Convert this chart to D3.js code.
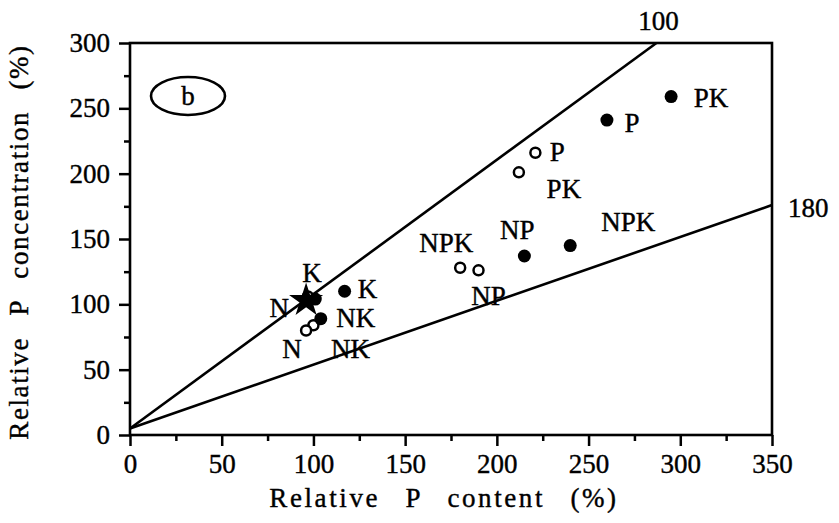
<!DOCTYPE html>
<html>
<head>
<meta charset="utf-8">
<script src="https://cdn.jsdelivr.net/npm/d3@7"></script>
<style>
  html, body { margin: 0; padding: 0; background: #fff; }
  svg { display: block; }
  text { font-family: "Liberation Serif", "DejaVu Serif", serif; fill: #000; stroke: #000; stroke-width: 0.4px; }
</style>
</head>
<body>
<svg id="chart" width="839" height="523"></svg>
<script>
// Relative P content vs relative P concentration, panel b
const xTicks = [0, 50, 100, 150, 200, 250, 300, 350];
const yTicks = [0, 50, 100, 150, 200, 250, 300];

// Filled symbols
const filledLabels = ["PK", "P", "NPK", "NP", "K", "NK", "N"];
const filledX = [295, 260, 240, 215, 117, 104, 101];
const filledY = [259, 241, 145, 137, 110, 89, 104];

// Open symbols
const openLabels = ["P", "PK", "NP", "NPK", "K", "NK", "N"];
const openX = [221, 212, 190, 180, 97, 100, 96];
const openY = [216, 201, 126, 128, 106, 84, 80];

// Unfertilised control (star)
const controlX = 96;
const controlY = 103;

// Reference lines (start and end points in data units)
const refLabels = ["100", "180"];
const refX0 = [0, 0];
const refY0 = [5, 5];
const refX1 = [287, 350];
const refY1 = [300, 176];

// label placement, pixel offsets from each symbol
const filledOffsets = {
  PK: [40, 1], P: [25, 2], NPK: [58, -24], NP: [-7, -26],
  K: [23, -3], NK: [35, -1], N: [-36, 8]
};
const openOffsets = {
  P: [22, -1], PK: [45, 16], NP: [10, 25], NPK: [-14, -25],
  K: [4, -24], NK: [37, 23], N: [-14, 18]
};

const svg = d3.select("#chart");
const plotLeft = 130, plotRight = 772, plotTop = 43, plotBottom = 435;

const x = d3.scaleLinear().domain([0, 350]).range([plotLeft, plotRight]);
const y = d3.scaleLinear().domain([0, 300]).range([plotBottom, plotTop]);

const tickFont = 27;
const labelFont = 27;

// frame
svg.append("rect")
  .attr("x", plotLeft).attr("y", plotTop)
  .attr("width", plotRight - plotLeft).attr("height", plotBottom - plotTop)
  .attr("fill", "none").attr("stroke", "#000").attr("stroke-width", 2.6);

// minor ticks
const minor = d3.range(25, 350, 50);
const minorY = d3.range(25, 300, 50);
svg.append("g").attr("transform", `translate(0,${plotBottom})`)
  .call(d3.axisBottom(x).tickValues(minor).tickSize(6).tickFormat(""))
  .call(g => g.select(".domain").remove())
  .selectAll("line").attr("stroke-width", 2.5);
svg.append("g").attr("transform", `translate(${plotLeft},0)`)
  .call(d3.axisLeft(y).tickValues(minorY).tickSize(6).tickFormat(""))
  .call(g => g.select(".domain").remove())
  .selectAll("line").attr("stroke-width", 2.5);

// major ticks with labels
const xAxis = svg.append("g").attr("transform", `translate(0,${plotBottom})`)
  .call(d3.axisBottom(x).tickValues(xTicks).tickSize(11).tickPadding(5));
xAxis.select(".domain").remove();
xAxis.selectAll("line").attr("stroke-width", 2.5);
xAxis.selectAll("text").attr("font-size", tickFont).attr("dy", "0.8em");

const yAxis = svg.append("g").attr("transform", `translate(${plotLeft},0)`)
  .call(d3.axisLeft(y).tickValues(yTicks).tickSize(11).tickPadding(9));
yAxis.select(".domain").remove();
yAxis.selectAll("line").attr("stroke-width", 2.5);
yAxis.selectAll("text").attr("font-size", tickFont);

// axis titles
svg.append("text")
  .attr("x", (plotLeft + plotRight) / 2 - 7).attr("y", 507)
  .attr("text-anchor", "middle")
  .attr("font-size", 27)
  .style("letter-spacing", "2.6px").style("word-spacing", "16px")
  .text("Relative P content (%)");

svg.append("text")
  .attr("transform", `translate(28,${(plotTop + plotBottom) / 2 + 3}) rotate(-90)`)
  .attr("text-anchor", "middle")
  .attr("font-size", 27)
  .style("letter-spacing", "1.6px").style("word-spacing", "13px")
  .text("Relative P concentration (%)");

// reference lines
const refs = refLabels.map((l, i) => ({ label: l, x0: refX0[i], y0: refY0[i], x1: refX1[i], y1: refY1[i] }));
svg.append("g").selectAll("line").data(refs).join("line")
  .attr("x1", d => x(d.x0)).attr("y1", d => y(d.y0))
  .attr("x2", d => x(d.x1)).attr("y2", d => y(d.y1))
  .attr("stroke", "#000").attr("stroke-width", 2.6);

svg.append("text")
  .attr("x", x(refs[0].x1) + 2).attr("y", plotTop - 13)
  .attr("text-anchor", "middle").attr("font-size", tickFont)
  .text(refs[0].label);
svg.append("text")
  .attr("x", plotRight + 16).attr("y", y(refs[1].y1) + 12)
  .attr("text-anchor", "start").attr("font-size", tickFont)
  .text(refs[1].label);

// panel tag
svg.append("ellipse")
  .attr("cx", 188).attr("cy", 96).attr("rx", 37).attr("ry", 19)
  .attr("fill", "none").attr("stroke", "#000").attr("stroke-width", 2.6);
svg.append("text")
  .attr("x", 188).attr("y", 96).attr("dy", "0.35em")
  .attr("text-anchor", "middle").attr("font-size", 27)
  .text("b");

// symbols
const filled = filledLabels.map((l, i) => ({ label: l, x: filledX[i], y: filledY[i] }));
const open = openLabels.map((l, i) => ({ label: l, x: openX[i], y: openY[i] }));

svg.append("g").selectAll("circle").data(open).join("circle")
  .attr("cx", d => x(d.x)).attr("cy", d => y(d.y)).attr("r", 5)
  .attr("fill", "#fff").attr("stroke", "#000").attr("stroke-width", 2.5);

svg.append("g").selectAll("circle").data(filled).join("circle")
  .attr("cx", d => x(d.x)).attr("cy", d => y(d.y)).attr("r", 6.5)
  .attr("fill", "#000");

svg.append("path")
  .attr("d", d3.symbol(d3.symbolStar, 360)())
  .attr("transform", `translate(${x(controlX)},${y(controlY)})`)
  .attr("fill", "#000");

// point labels
const labelG = svg.append("g").attr("font-size", labelFont);
labelG.selectAll("text.f").data(filled).join("text").attr("class", "f")
  .attr("x", d => x(d.x) + filledOffsets[d.label][0])
  .attr("y", d => y(d.y) + filledOffsets[d.label][1])
  .attr("dy", "0.35em").attr("text-anchor", "middle")
  .text(d => d.label);
labelG.selectAll("text.o").data(open).join("text").attr("class", "o")
  .attr("x", d => x(d.x) + openOffsets[d.label][0])
  .attr("y", d => y(d.y) + openOffsets[d.label][1])
  .attr("dy", "0.35em").attr("text-anchor", "middle")
  .text(d => d.label);
</script>
</body>
</html>
